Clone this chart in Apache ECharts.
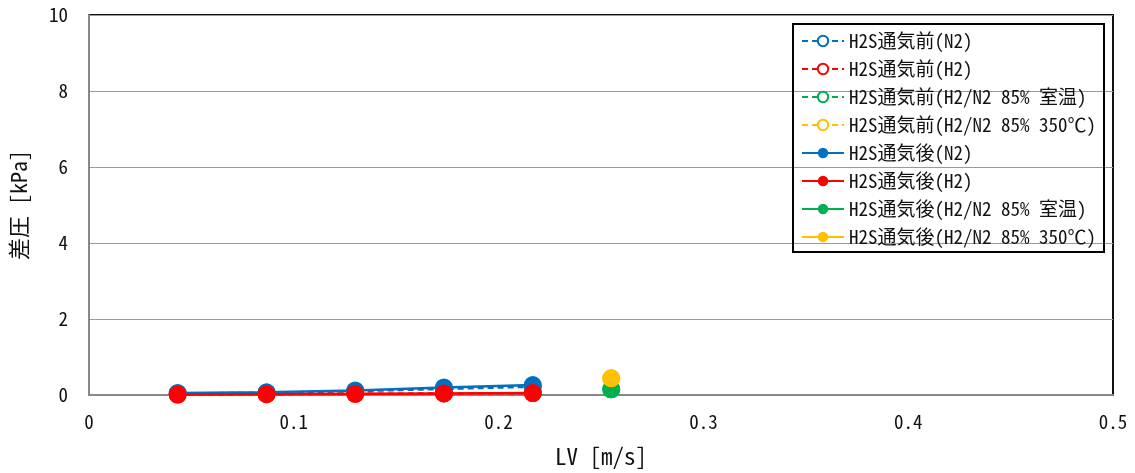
<!DOCTYPE html>
<html><head><meta charset="utf-8">
<script src="https://cdn.jsdelivr.net/npm/echarts@6/dist/echarts.min.js"></script>
<style>html,body{margin:0;padding:0;background:#fff}#c{width:1135px;height:473px}</style>
</head><body><div id="c"></div>
<script>
const lvMain = [0.0433, 0.0867, 0.13, 0.1733, 0.2167];
const lvSingle = [0.255];
const beforeN2 = [0.04, 0.06, 0.10, 0.16, 0.22];
const beforeH2 = [0.01, 0.02, 0.03, 0.04, 0.05];
const beforeMixRT = [0.15];
const beforeMix350 = [0.44];
const afterN2 = [0.05, 0.07, 0.12, 0.20, 0.26];
const afterH2 = [0.01, 0.02, 0.03, 0.04, 0.05];
const afterMixRT = [0.15];
const afterMix350 = [0.44];
const names = [
  'H2S通気前(N2)','H2S通気前(H2)','H2S通気前(H2/N2 85% 室温)','H2S通気前(H2/N2 85% 350℃)',
  'H2S通気後(N2)','H2S通気後(H2)','H2S通気後(H2/N2 85% 室温)','H2S通気後(H2/N2 85% 350℃)'
];
const colors = ['#0070C0','#FF0000','#00B050','#FFC000'];
const FONT = '"Noto Sans Mono CJK JP", "Noto Sans CJK JP", sans-serif';
function pts(xs, ys){ return xs.map((x,i)=>[x, ys[i]]); }
const beforeData = [pts(lvMain,beforeN2), pts(lvMain,beforeH2), pts(lvSingle,beforeMixRT), pts(lvSingle,beforeMix350)];
const afterData = [pts(lvMain,afterN2), pts(lvMain,afterH2), pts(lvSingle,afterMixRT), pts(lvSingle,afterMix350)];
const series = [];
for (let i=0;i<4;i++){
  series.push({name:names[i], type:'line', data:beforeData[i], symbol:'emptyCircle', symbolSize:16,
    lineStyle:{color:colors[i], width:2.5, type:[6,4]}, itemStyle:{color:colors[i], borderWidth:2.5, borderColor:colors[i]},
    animation:false, z:2});
}
for (let i=0;i<4;i++){
  series.push({name:names[i+4], type:'line', data:afterData[i], symbol:'circle', symbolSize:18,
    lineStyle:{color:colors[i], width:2.5}, itemStyle:{color:colors[i]}, animation:false, z:3});
}
const chart = echarts.init(document.getElementById('c'), null, {renderer:'canvas'});
chart.setOption({
  backgroundColor:'#fff',
  textStyle:{fontFamily:FONT},
  grid:{left:87, right:22, top:15, bottom:73, show:true, borderColor:'#111', borderWidth:2, containLabel:false},
  xAxis:{type:'value', min:0, max:0.5, interval:0.1,
    name:'LV [m/s]', nameLocation:'middle', nameGap:50,
    nameTextStyle:{fontSize:23, color:'#111', fontFamily:FONT},
    axisLine:{show:true, onZero:false, lineStyle:{color:'#888', width:2}},
    axisTick:{show:false},
    axisLabel:{fontSize:19, color:'#111', margin:17, fontFamily:FONT},
    splitLine:{show:false}},
  yAxis:{type:'value', min:0, max:10, interval:2,
    name:'差圧 [kPa]', nameLocation:'middle', nameGap:59, nameRotate:90,
    nameTextStyle:{fontSize:22, color:'#111', fontFamily:FONT},
    axisLine:{show:true, lineStyle:{color:'#888', width:2}},
    axisTick:{show:false},
    axisLabel:{fontSize:19, color:'#111', margin:21, fontFamily:FONT},
    splitLine:{show:true, lineStyle:{color:'#999', width:1}}},
  legend:{orient:'vertical', left:801, top:31, itemWidth:42, itemHeight:13, itemGap:8,
    padding:0, data:names,
    textStyle:{fontSize:19, color:'#111', lineHeight:20, fontFamily:FONT}},
  graphic:[{type:'rect', shape:{x:793, y:24, width:311, height:228},
    style:{fill:'none', stroke:'#000', lineWidth:2}, z:100, silent:true}],
  series:series
});
</script></body></html>
